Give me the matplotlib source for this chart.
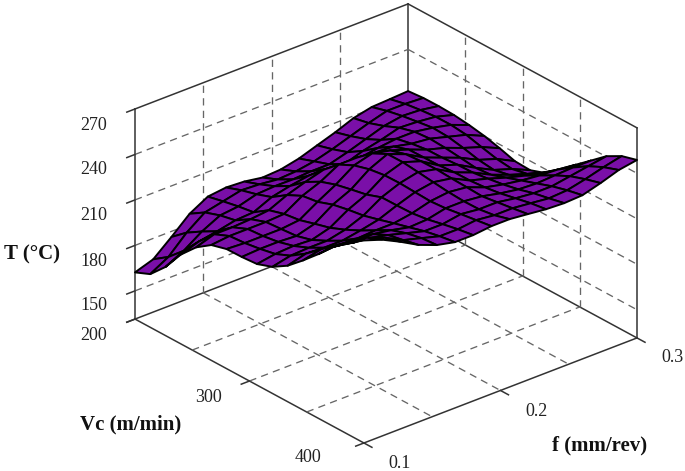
import numpy as np
import matplotlib
matplotlib.use('Agg')
import matplotlib.pyplot as plt
from mpl_toolkits.mplot3d import proj3d

plt.rcParams['font.family'] = ['Liberation Serif', 'DejaVu Serif']

feed = np.linspace(0.1, 0.3, 16)
speed = np.linspace(200, 400, 16)

# temperature, one row per feed value, Vc going 200 -> 400
temp = np.array([
    [162.2, 166.5, 176.7, 190.3, 200.5, 207.5, 210.3, 210.5, 211.3, 214.9, 221.1, 230.0, 239.6, 249.8, 258.0, 265.0],
    [166.2, 173.2, 182.7, 194.3, 204.5, 208.8, 209.6, 211.2, 213.3, 217.6, 224.4, 232.7, 240.9, 249.2, 256.7, 260.9],
    [176.3, 184.6, 190.8, 196.4, 204.5, 208.8, 209.6, 211.2, 214.0, 218.2, 223.7, 230.7, 238.2, 246.5, 252.0, 254.9],
    [187.0, 193.3, 196.8, 199.0, 205.2, 208.8, 209.6, 210.5, 213.3, 218.2, 223.7, 230.7, 238.9, 243.8, 245.9, 248.2],
    [193.7, 196.0, 198.1, 199.7, 206.5, 209.5, 210.9, 213.9, 216.7, 220.9, 225.8, 231.4, 236.9, 240.4, 242.6, 243.5],
    [195.1, 198.7, 201.5, 205.1, 211.9, 216.8, 218.3, 221.9, 224.0, 225.6, 228.4, 231.4, 234.2, 237.1, 239.2, 240.8],
    [194.4, 198.0, 202.2, 207.8, 215.9, 221.5, 225.0, 227.3, 229.4, 233.0, 233.1, 233.4, 234.8, 237.1, 239.2, 240.8],
    [192.4, 196.6, 202.1, 209.8, 219.3, 228.2, 233.1, 236.0, 237.5, 237.7, 237.2, 236.7, 237.5, 239.1, 240.6, 242.1],
    [193.1, 197.3, 202.8, 209.8, 218.6, 228.2, 236.4, 241.4, 241.5, 240.4, 239.2, 238.1, 237.5, 237.7, 239.2, 242.1],
    [195.7, 199.3, 202.8, 208.4, 217.9, 226.9, 233.7, 236.7, 237.5, 237.7, 237.1, 236.7, 236.2, 237.7, 239.2, 240.8],
    [199.8, 202.7, 206.2, 212.4, 219.9, 226.2, 229.7, 229.9, 230.1, 231.0, 231.1, 232.0, 233.5, 235.7, 237.9, 239.4],
    [203.8, 206.7, 210.2, 215.1, 221.3, 223.5, 225.0, 225.2, 226.0, 226.3, 227.7, 229.3, 231.5, 234.4, 236.5, 238.8],
    [208.5, 210.7, 214.2, 218.5, 221.3, 222.2, 221.6, 220.5, 219.3, 220.2, 223.7, 227.3, 230.8, 234.4, 237.2, 239.4],
    [211.2, 214.1, 216.2, 217.8, 219.3, 218.8, 216.9, 214.5, 213.3, 215.5, 220.4, 226.0, 231.5, 236.4, 239.9, 242.8],
    [211.8, 214.1, 215.5, 216.5, 216.6, 215.5, 212.9, 210.5, 209.3, 211.5, 217.7, 225.3, 232.1, 238.4, 243.2, 246.8],
    [212.5, 213.4, 213.5, 213.1, 211.9, 210.1, 207.5, 204.4, 203.9, 207.5, 215.0, 223.9, 232.1, 240.4, 245.9, 248.8],
])

f_grid = [0.15, 0.2, 0.25]
v_grid = [250, 300, 350]
t_grid = [150, 180, 210, 240]
f_lim = (0.1, 0.3)
v_lim = (200, 400)
t_lim = (131.4, 270)

W, H = 685, 471
fig = plt.figure(figsize=(W / 100, H / 100), dpi=100)
ax = fig.add_axes([100 / W, 0, 600 / W, 600 / H], projection='3d',
                  proj_type='ortho', computed_zorder=False)
ax.set_xlim(*f_lim)
ax.set_ylim(v_lim[1], v_lim[0])
ax.set_zlim(*t_lim)
ax.set_box_aspect((357, 355, 236))
ax.view_init(elev=27.15, azim=229.87)
ax.set_axis_off()

solid = dict(color='#333333', lw=1.1, zorder=1)
dash = dict(color='#666666', lw=0.95, ls=(0, (5.5, 4)), zorder=1)

f0, f1 = f_lim
v0, v1 = v_lim
t0, t1 = t_lim

# box edges
ax.plot([f0, f0], [v0, v1], [t0, t0], **solid)
ax.plot([f0, f1], [v1, v1], [t0, t0], **solid)
ax.plot([f0, f1], [v0, v0], [t0, t0], **solid)
ax.plot([f1, f1], [v0, v1], [t0, t0], **solid)
ax.plot([f0, f1], [v0, v0], [t1, t1], **solid)
ax.plot([f1, f1], [v0, v1], [t1, t1], **solid)
ax.plot([f0, f0], [v0, v0], [t0, t1], **solid)
ax.plot([f1, f1], [v0, v0], [t0, t1], **solid)
ax.plot([f1, f1], [v1, v1], [t0, t1], **solid)

# dashed grid on floor and the two back walls
for f in f_grid:
    ax.plot([f, f], [v0, v1], [t0, t0], **dash)
    ax.plot([f, f], [v0, v0], [t0, t1], **dash)
for v in v_grid:
    ax.plot([f0, f1], [v, v], [t0, t0], **dash)
    ax.plot([f1, f1], [v, v], [t0, t1], **dash)
for t in t_grid:
    ax.plot([f0, f1], [v0, v0], [t, t], **dash)
    ax.plot([f1, f1], [v0, v1], [t, t], **dash)

# tick stubs
df, dv = 0.006, 7
for t in t_grid + [t0, t1]:
    ax.plot([f0 - df, f0], [v0, v0], [t, t], **solid)
for v in [v0, 300, v1]:
    ax.plot([f0 - df, f0], [v, v], [t0, t0], **solid)
for f in [f0, 0.2, f1]:
    ax.plot([f, f], [v1, v1 + dv], [t0, t0], **solid)

F, V = np.meshgrid(feed, speed, indexing='ij')
ax.plot_surface(F, V, temp, rstride=1, cstride=1, color='#7A0FA8',
                edgecolor='black', linewidth=1.4, shade=False, zorder=2)


def to_px(f, v, t):
    x, y, _ = proj3d.proj_transform(f, v, t, ax.get_proj())
    return ax.transData.transform((x, y))


# move the axes so the box corners land where the reference has them
for _ in range(3):
    fig.canvas.draw()
    a = to_px(f0, v0, t0)
    c = to_px(f1, v1, t0)
    pos = ax.get_position()
    size = pos.width * W * 502 / (c[0] - a[0])
    cx = pos.x0 * W + pos.width * W / 2 + (386 - (a[0] + c[0]) / 2)
    cy = pos.y0 * H + pos.height * H / 2 + ((H - 328.5) - (a[1] + c[1]) / 2)
    ax.set_position([(cx - size / 2) / W, (cy - size / 2) / H, size / W, size / H])


def label(x, y, s, **kw):
    fig.text(x / W, 1 - y / H, s, ha='center', va='center', **kw)


t_labels = ['270', '240', '210', '180', '150']
t_label_y = [125, 170, 215, 261, 306]
for s, y in zip(t_labels, t_label_y):
    label(94, y, s, fontsize=13, color='#222222')

v_labels = ['200', '300', '400']
v_label_xy = [(94, 336), (208, 398), (308, 457)]
for s, (x, y) in zip(v_labels, v_label_xy):
    label(x, y, s, fontsize=13, color='#222222')

f_labels = ['0.1', '0.2', '0.3']
f_label_xy = [(400, 463), (536, 411), (673, 358)]
for s, (x, y) in zip(f_labels, f_label_xy):
    label(x, y, s, fontsize=13, color='#222222')

label(32, 254, 'T (°C)', fontsize=15, fontweight='bold', color='#111111')
label(131, 424, 'Vc (m/min)', fontsize=15, fontweight='bold', color='#111111')
label(600, 445, 'f (mm/rev)', fontsize=15, fontweight='bold', color='#111111')

fig.savefig('out.png', dpi=100)
